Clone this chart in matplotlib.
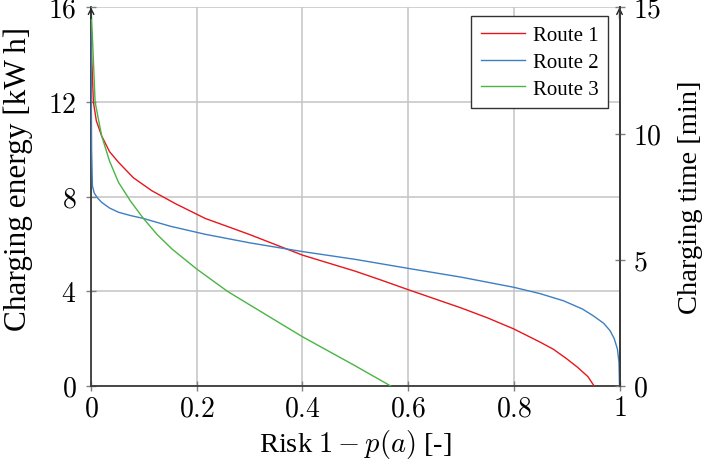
import matplotlib
matplotlib.use("Agg")
import matplotlib.pyplot as plt

plt.rcParams['font.family'] = ['Liberation Serif', 'DejaVu Serif']
plt.rcParams['mathtext.fontset'] = 'cm'

# ---- data ----
route1_x = [0, 0.001, 0.0044, 0.01, 0.02, 0.035, 0.052, 0.08, 0.115, 0.16, 0.216, 0.3, 0.37,
            0.4, 0.5, 0.547, 0.6, 0.7, 0.75, 0.8, 0.85, 0.875, 0.9, 0.92, 0.94, 0.952]
route1_y = [16, 14.0, 12.0, 11.2, 10.57, 9.9, 9.45, 8.8, 8.25, 7.7, 7.08, 6.4, 5.79,
            5.53, 4.85, 4.49, 4.07, 3.3, 2.88, 2.41, 1.85, 1.55, 1.15, 0.8, 0.4, 0]

route2_x = [0, 0.0005, 0.001, 0.0025, 0.006, 0.012, 0.02, 0.035, 0.052, 0.075, 0.099, 0.15,
            0.216, 0.3, 0.37, 0.4, 0.5, 0.6, 0.7, 0.8, 0.85, 0.894, 0.93, 0.95, 0.97, 0.982,
            0.99, 0.996, 0.999, 1.0]
route2_y = [16, 12, 10, 8.46, 8.15, 7.95, 7.76, 7.52, 7.34, 7.2, 7.08, 6.75,
            6.41, 6.05, 5.79, 5.68, 5.35, 4.97, 4.6, 4.17, 3.9, 3.6, 3.25, 2.97, 2.65, 2.34,
            2.0, 1.56, 1.0, 0]

route3_x = [0, 0.003, 0.0076, 0.02, 0.035, 0.052, 0.075, 0.099, 0.125, 0.153, 0.2, 0.258,
            0.3, 0.4, 0.5, 0.567]
route3_y = [16, 14.5, 12, 10.57, 9.5, 8.6, 7.8, 7.08, 6.4, 5.79, 4.94, 4.0,
            3.43, 2.08, 0.85, 0]

series_labels = ['Route 1', 'Route 2', 'Route 3']
x_ticks = [0, 0.2, 0.4, 0.6, 0.8, 1]
x_ticklabels = ['0', '0.2', '0.4', '0.6', '0.8', '1']
y_ticks = [0, 4, 8, 12, 16]
y2_ticks = [0, 5, 10, 15]

colors = ['#e8161c', '#3d7ec4', '#48b544']

fig = plt.figure(figsize=(7.06, 4.64), dpi=100)
ax = fig.add_axes([0.129, 0.166, 0.7485, 0.816])

for xs, ys, c, lab in zip([route1_x, route2_x, route3_x], [route1_y, route2_y, route3_y],
                          colors, series_labels):
    ax.plot(xs, ys, color=c, lw=1.0, label=lab, zorder=3)

ax.set_xlim(0, 1)
ax.set_ylim(0, 16)
ax.set_xticks(x_ticks)
ax.set_xticklabels(['$' + t + '$' for t in x_ticklabels])
ax.set_yticks(y_ticks)
ax.set_yticklabels(['$%d$' % v for v in y_ticks])
ax.grid(True, color='#c4c4c4', lw=1.1, zorder=0)
ax.set_axisbelow(True)

spine_color = '#3a3a3a'
for s in ['left', 'bottom', 'right']:
    ax.spines[s].set_color(spine_color)
    ax.spines[s].set_linewidth(1.3)
ax.spines['top'].set_visible(False)
ax.tick_params(axis='x', direction='inout', length=7, width=1.0, color='#808080',
               labelsize=20, pad=4)
ax.tick_params(axis='y', direction='inout', length=7, width=1.0, color='#808080',
               labelsize=20, pad=7)

ax.set_xlabel('Risk $1 - p(a)$ [-]', fontsize=20.5, labelpad=4)
ax.set_ylabel('Charging energy [kW\u2009h]', fontsize=22.5)
ax.yaxis.set_label_coords(-0.11, 0.55)

ax2 = ax.twinx()
ax2.set_ylim(0, 15)
ax2.set_yticks(y2_ticks)
ax2.set_yticklabels(['$%d$' % v for v in y2_ticks])
for s in ['left', 'top', 'bottom']:
    ax2.spines[s].set_visible(False)
ax2.spines['right'].set_color(spine_color)
ax2.spines['right'].set_linewidth(1.3)
ax2.tick_params(axis='y', direction='inout', length=7, width=1.0, color='#808080',
                labelsize=20, pad=6)
ax2.set_ylabel('Charging time [min]', fontsize=20.5, labelpad=12)

# arrowheads at the top of both vertical axes
for xa in [0, 1]:
    ax.annotate('', xy=(xa, 1.0), xytext=(xa, 0.97), xycoords='axes fraction',
                arrowprops=dict(arrowstyle='->', color='#222222', lw=1.0,
                                shrinkA=0, shrinkB=0, mutation_scale=10),
                annotation_clip=False, zorder=5)

leg = ax.legend(loc='upper right', bbox_to_anchor=(0.978, 0.977), fontsize=15,
                frameon=True, fancybox=False, framealpha=1, edgecolor='#333333',
                handlelength=2.15, handletextpad=0.35, borderpad=0.45, labelspacing=0.35,
                borderaxespad=0)
leg.get_frame().set_linewidth(1.0)
leg.set_zorder(10)

fig.savefig('out.png', dpi=100)
